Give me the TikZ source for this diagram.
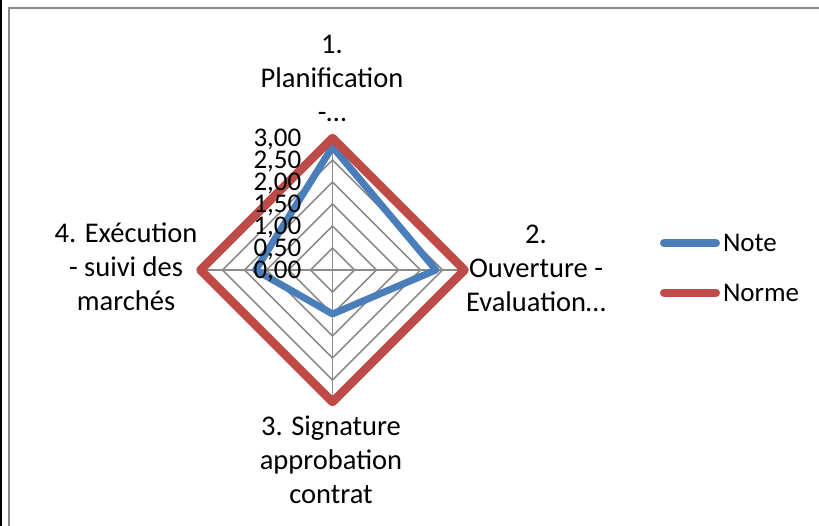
\documentclass[tikz,border=0pt]{standalone}
\usepackage{fontspec}
\setmainfont{Carlito}
\usepackage{xcolor}
\usetikzlibrary{positioning}
\definecolor{notecol}{HTML}{4A7EBB}
\definecolor{normecol}{HTML}{BE4B48}
\definecolor{gridcol}{HTML}{8C8C8C}
\definecolor{framecol}{HTML}{8A8A8A}

\begin{document}
\begin{tikzpicture}[x=1pt,y=-1pt,
  axlabel/.style={font=\fontsize{28.5}{34}\selectfont,align=center},
  ticklabel/.style={font=\fontsize{27}{27}\selectfont,anchor=base east,inner sep=0pt},
  ring/.style={draw=gridcol,line width=1.5pt},
  serie/.style={line width=#1,line join=round}]
\useasboundingbox (0,0) rectangle (819,526);
\fill[white] (0,0) rectangle (819,526);
\fill[black] (0,0) rectangle (2.3,526);
\draw[framecol,line width=1.8pt] (9.2,527) -- (9.2,8) -- (820,8);

\begin{scope}[shift={(332.5,270)}]
  % grid
  \foreach \r in {22,44,...,132}
    \draw[ring] (0,-\r) -- (\r,0) -- (0,\r) -- (-\r,0) -- cycle;
  \draw[ring] (0,-132) -- (0,132);
  \draw[ring] (-132,0) -- (132,0);
  % series
  \draw[serie=7pt,notecol] (0,-123.2) -- (103.4,0) -- (0,44) -- (-77,0) -- cycle;
  \draw[serie=8.5pt,normecol] (0,-132) -- (132,0) -- (0,132) -- (-132,0) -- cycle;
  % scale
  \foreach \k/\t in {0/{0,00},1/{0,50},2/{1,00},3/{1,50},4/{2,00},5/{2,50},6/{3,00}}
    \node[ticklabel] (tick\k) at (-31,-22*\k+8.7) {\t};
\end{scope}

\node[axlabel] (ax1) at (332,78) {1.\\Planification\\-…};
\node[axlabel] (ax2) at (536,268) {2.\\Ouverture -\\Evaluation…};
\node[axlabel] (ax3) at (331,459.5) {3. Signature\\approbation\\contrat};
\node[axlabel] (ax4) at (126,267) {4. Exécution\\- suivi des\\marchés};

% legend
\draw[notecol,line width=8pt,line cap=round] (664,243) -- (716,243)
  node[anchor=west,font=\fontsize{27}{27}\selectfont,inner xsep=3pt,text=black] (legnote) {Note};
\draw[normecol,line width=8pt,line cap=round] (664,292.7) -- (716,292.7)
  node[anchor=west,font=\fontsize{27}{27}\selectfont,inner xsep=3pt,text=black] (legnorme) {Norme};
\end{tikzpicture}
\end{document}
